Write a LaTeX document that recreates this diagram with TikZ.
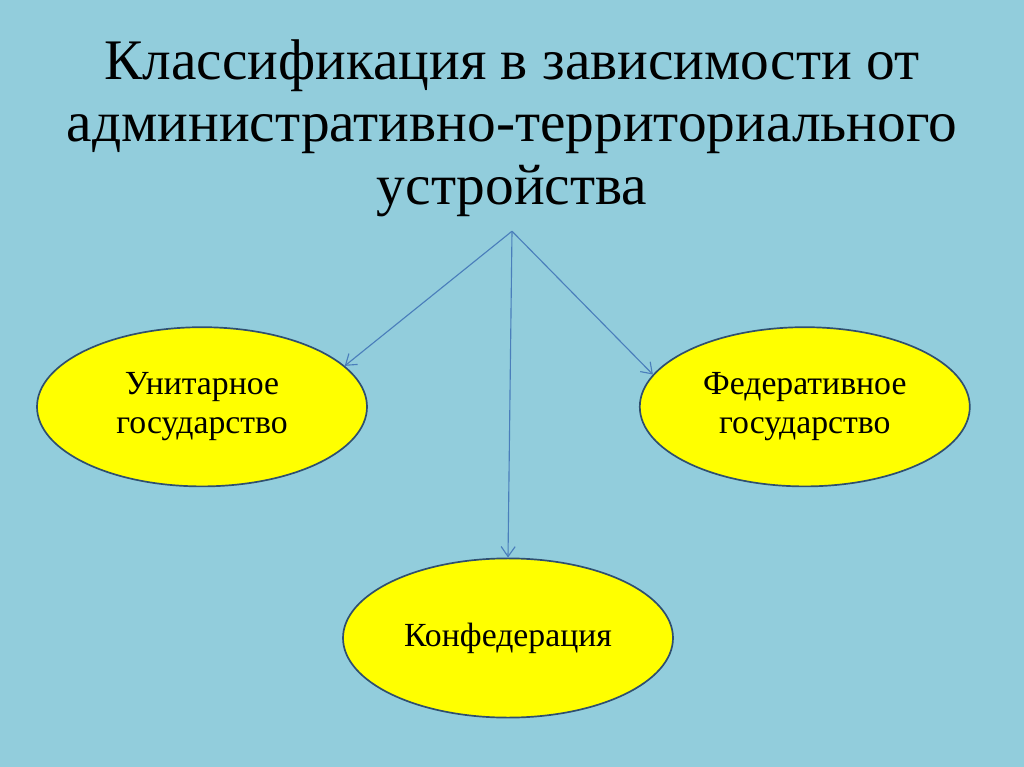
\documentclass[tikz,border=0pt]{standalone}
\usepackage{fontspec}
\setmainfont{Liberation Serif}
\usetikzlibrary{shapes.geometric, arrows.meta, positioning}

\definecolor{slidebg}{HTML}{92CDDC}
\definecolor{ovalfill}{HTML}{FFFF00}
\definecolor{ovalline}{HTML}{2F4F6F}
\definecolor{arrowblue}{HTML}{4A7EBB}

\tikzset{
  stateoval/.style={ellipse, draw=ovalline, line width=1.2pt, fill=ovalfill,
    minimum width=8.25cm, minimum height=3.98cm, align=center,
    font=\fontsize{24}{28}\selectfont},
  branch/.style={draw=arrowblue, line width=0.8pt, -{Straight Barb[length=2.5mm,width=3.5mm]}}
}

\begin{document}
\begin{tikzpicture}
\fill[slidebg] (0,0) rectangle (25.6,-19.175);
\useasboundingbox (0,0) rectangle (25.6,-19.175);

\node[align=center, font=\fontsize{40.8}{44.6}\selectfont] (title) at (12.8,-3.2)
  {Классификация в зависимости от\\административно-территориального\\устройства};

\coordinate (apex) at (12.8,-5.78);
\node[stateoval] (unitary) at (5.05,-10.17) {Унитарное\\государство};
\node[stateoval] (federal) at (20.12,-10.17) {Федеративное\\государство};
\node[stateoval] (confed) at (12.7,-15.95) {Конфедерация};

\draw[branch] (apex) -- (unitary.16);
\draw[branch] (apex) -- (federal.168);
\draw[branch] (apex) -- (confed.north);
\end{tikzpicture}
\end{document}
